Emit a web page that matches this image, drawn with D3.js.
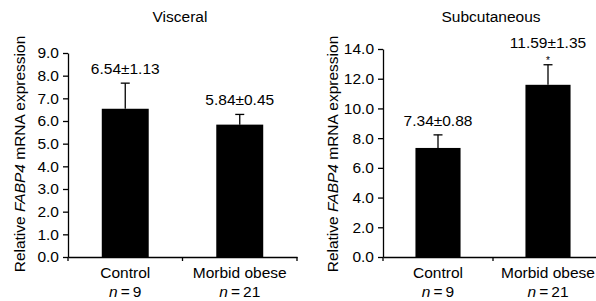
<!DOCTYPE html>
<html>
<head>
<meta charset="utf-8">
<script src="https://cdn.jsdelivr.net/npm/d3@7"></script>
<style>
  html, body { margin: 0; padding: 0; background: #fff; }
  svg text { font-family: "Liberation Sans", Arial, sans-serif; fill: #000; }
</style>
</head>
<body>
<svg id="chart" width="596" height="301"></svg>
<script>
// ── Data ──────────────────────────────────────────────────────────────────────
const GROUPS        = ['Control', 'Morbid obese'];
const GROUP_N       = ['9', '21'];

const VISC_MEAN     = [6.54, 5.84];
const VISC_SEM      = [1.13, 0.45];
const VISC_SIG      = [false, false];
const VISC_TICKS    = [0, 1, 2, 3, 4, 5, 6, 7, 8, 9];

const SUBQ_MEAN     = [7.34, 11.59];
const SUBQ_SEM      = [0.88, 1.35];
const SUBQ_SIG      = [false, true];
const SUBQ_TICKS    = [0, 2, 4, 6, 8, 10, 12, 14];

const FONT = 15.5;

// ── Panel ─────────────────────────────────────────────────────────────────────
const svg = d3.select('#chart');

function drawPanel(p) {
    const g = svg.append('g');

    const x = d3.scaleBand()
        .domain(GROUPS)
        .range([p.x0, p.x1])
        .paddingInner(p.pad).paddingOuter(p.pad / 2);

    const y = d3.scaleLinear()
        .domain([0, d3.max(p.ticks)])
        .range([p.yBottom, p.yTop]);

    const rows = GROUPS.map((k, i) => ({ k, n: GROUP_N[i], m: p.mean[i], e: p.sem[i], sig: p.sig[i] }));

    // Bars
    g.selectAll('rect.bar')
        .data(rows)
        .join('rect')
        .attr('class', 'bar')
        .attr('x', d => x(d.k))
        .attr('y', d => y(d.m))
        .attr('width', x.bandwidth())
        .attr('height', d => y(0) - y(d.m))
        .attr('fill', '#000');

    // Error bars (upper only)
    const cx = d => x(d.k) + x.bandwidth() / 2;
    g.selectAll('line.err')
        .data(rows)
        .join('line')
        .attr('x1', cx).attr('x2', cx)
        .attr('y1', d => y(d.m)).attr('y2', d => y(d.m + d.e))
        .attr('stroke', '#000').attr('stroke-width', 1.3);
    g.selectAll('line.cap')
        .data(rows)
        .join('line')
        .attr('x1', d => cx(d) - 4.5).attr('x2', d => cx(d) + 4.5)
        .attr('y1', d => y(d.m + d.e)).attr('y2', d => y(d.m + d.e))
        .attr('stroke', '#000').attr('stroke-width', 1.3);

    // Asterisk
    g.selectAll('text.sig')
        .data(rows.filter(d => d.sig))
        .join('text')
        .attr('x', cx)
        .attr('y', d => y(d.m + d.e) - 1)
        .attr('text-anchor', 'middle')
        .attr('font-size', 10)
        .text('*');

    // Value labels
    g.selectAll('text.val')
        .data(rows)
        .join('text')
        .attr('x', cx)
        .attr('y', d => y(d.m + d.e) - (d.sig ? 17 : 9))
        .attr('text-anchor', 'middle')
        .attr('font-size', FONT)
        .text(d => `${d.m.toFixed(2)}±${d.e.toFixed(2)}`);

    // Y axis
    const yAxis = g.append('g')
        .attr('transform', `translate(${p.x0},0)`)
        .call(d3.axisLeft(y).tickValues(p.ticks).tickFormat(d3.format('.1f'))
            .tickSize(5).tickSizeOuter(0).tickPadding(4));
    yAxis.select('.domain').attr('stroke-width', 1.3);
    yAxis.selectAll('.tick line').attr('stroke-width', 1.3);
    yAxis.selectAll('text').attr('font-size', FONT).attr('font-family', null);

    // X axis
    const xAxis = g.append('g')
        .attr('transform', `translate(0,${p.yBottom})`)
        .call(d3.axisBottom(x).tickSize(0).tickSizeOuter(0).tickFormat(''));
    xAxis.select('.domain').attr('stroke-width', 1.3);
    // boundary ticks between groups
    const bounds = [p.x0, (p.x0 + p.x1) / 2, p.x1];
    xAxis.selectAll('line.bt')
        .data(bounds)
        .join('line')
        .attr('x1', d => d).attr('x2', d => d)
        .attr('y1', 0).attr('y2', 4)
        .attr('stroke', '#000').attr('stroke-width', 1.3);

    // Group labels
    g.selectAll('text.grp')
        .data(rows)
        .join('text')
        .attr('x', cx)
        .attr('y', p.yBottom + 21)
        .attr('text-anchor', 'middle')
        .attr('font-size', FONT)
        .text(d => d.k);

    const nl = g.selectAll('text.n')
        .data(rows)
        .join('text')
        .attr('x', cx)
        .attr('y', p.yBottom + 40)
        .attr('text-anchor', 'middle')
        .attr('font-size', FONT);
    nl.append('tspan').attr('font-style', 'italic').text('n');
    nl.append('tspan').text(d => '\u2009=\u2009' + d.n);

    // Title
    g.append('text')
        .attr('x', p.titleX)
        .attr('y', 22)
        .attr('text-anchor', 'middle')
        .attr('font-size', FONT)
        .text(p.title);

    // Y label
    const yl = g.append('text')
        .attr('transform', `translate(${p.labelX},154) rotate(-90)`)
        .attr('text-anchor', 'middle')
        .attr('font-size', FONT);
    yl.append('tspan').text('Relative ');
    yl.append('tspan').attr('font-style', 'italic').text('FABP4');
    yl.append('tspan').text(' mRNA expression');
}

drawPanel({
    title: 'Visceral', titleX: 180, labelX: 25,
    x0: 68, x1: 297, yTop: 53, yBottom: 257, pad: 0.59,
    mean: VISC_MEAN, sem: VISC_SEM, sig: VISC_SIG, ticks: VISC_TICKS,
});

drawPanel({
    title: 'Subcutaneous', titleX: 491, labelX: 338,
    x0: 383, x1: 603, yTop: 49, yBottom: 257, pad: 0.59,
    mean: SUBQ_MEAN, sem: SUBQ_SEM, sig: SUBQ_SIG, ticks: SUBQ_TICKS,
});
</script>
</body>
</html>
